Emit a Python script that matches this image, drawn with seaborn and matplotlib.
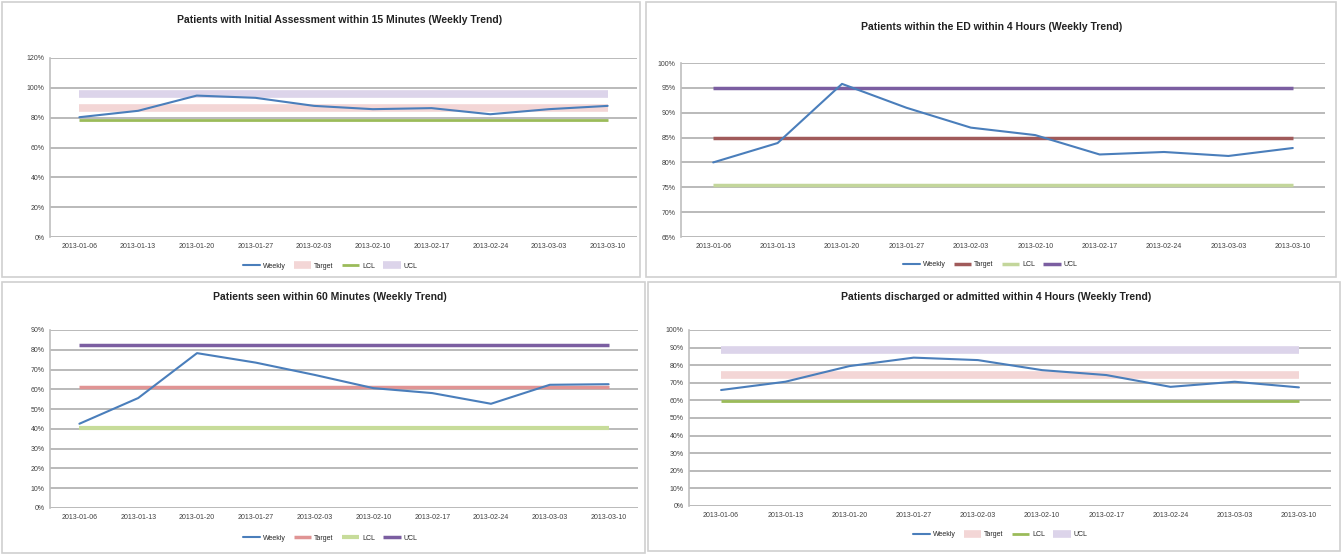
import matplotlib
matplotlib.use("Agg")
import matplotlib.pyplot as plt
import seaborn as sns
import pandas as pd
from matplotlib.patches import Rectangle
from matplotlib.ticker import PercentFormatter

# weekly dates (x categories)
weeks = ["2013-01-06", "2013-01-13", "2013-01-20", "2013-01-27", "2013-02-03",
         "2013-02-10", "2013-02-17", "2013-02-24", "2013-03-03", "2013-03-10"]

series_names = ["Weekly", "Target", "LCL", "UCL"]

# panel 1 - initial assessment
p1_title = "Patients with Initial Assessment within 15 Minutes (Weekly Trend)"
p1_weekly = [80.3, 84.6, 94.8, 93.3, 87.9, 85.7, 86.4, 82.3, 85.7, 87.9]
p1_upper, p1_target, p1_lower = 96.2, 86.8, 78.5

# panel 2 - ED 4 hours
p2_title = "Patients within the ED within 4 Hours (Weekly Trend)"
p2_weekly = [80.0, 83.9, 95.8, 91.0, 87.0, 85.5, 81.6, 82.1, 81.3, 82.9]
p2_upper, p2_target, p2_lower = 95.0, 85.0, 75.5

# panel 3 - seen within 60 minutes
p3_title = "Patients seen within 60 Minutes (Weekly Trend)"
p3_weekly = [42.6, 55.6, 78.3, 73.5, 67.3, 60.6, 58.1, 52.7, 62.3, 62.6]
p3_upper, p3_target, p3_lower = 82.5, 61.1, 40.4

# panel 4 - discharged / admitted within 4 hours
p4_title = "Patients discharged or admitted within 4 Hours (Weekly Trend)"
p4_weekly = [65.9, 70.6, 79.5, 84.3, 82.9, 77.2, 74.4, 67.7, 70.6, 67.4]
p4_upper, p4_target, p4_lower = 88.9, 74.4, 59.8

W, H = 1344, 555


def fig_rect(left, right, top, bottom):
    return [left / W, 1 - bottom / H, (right - left) / W, (bottom - top) / H]


def draw_panel(fig, plot_box, frame_box, title, title_xy, legend_xy,
               weekly, upper, target, lower, ylim, ystep, style):
    ax = fig.add_axes(fig_rect(*plot_box))
    fl, fr, ft, fb = frame_box
    fig.add_artist(Rectangle((fl / W, 1 - fb / H), (fr - fl) / W, (fb - ft) / H,
                             transform=fig.transFigure, fill=False,
                             edgecolor="#d0d0d0", linewidth=1.2))

    df = pd.DataFrame({"week": weeks, "Weekly": weekly,
                       "UCL": [upper] * len(weeks),
                       "Target": [target] * len(weeks),
                       "LCL": [lower] * len(weeks)})

    sns.lineplot(data=df, x="week", y="UCL", ax=ax, color=style["ucl"],
                 linewidth=style["band_w"], label="UCL", sort=False,
                 solid_capstyle="butt")
    sns.lineplot(data=df, x="week", y="Target", ax=ax, color=style["target"],
                 linewidth=style["band_w"], label="Target", sort=False,
                 solid_capstyle="butt")
    sns.lineplot(data=df, x="week", y="LCL", ax=ax, color=style["lcl"],
                 linewidth=style["lcl_w"], label="LCL", sort=False,
                 solid_capstyle="butt")
    sns.lineplot(data=df, x="week", y="Weekly", ax=ax, color="#4a7ebb",
                 linewidth=1.5, label="Weekly", sort=False)

    ax.set_xlim(-0.5, len(weeks) - 0.5)
    ax.set_ylim(*ylim)
    ax.set_yticks([ylim[0] + i * ystep for i in range(int(round((ylim[1] - ylim[0]) / ystep)) + 1)])
    ax.yaxis.set_major_formatter(PercentFormatter(decimals=0))
    ax.grid(axis="y", color="#b4b4b4", linewidth=1.3)
    ax.grid(axis="x", visible=False)
    ax.set_axisbelow(True)
    for s in ["top", "right", "bottom"]:
        ax.spines[s].set_visible(False)
    ax.spines["left"].set_color("#bfbfbf")
    ax.spines["left"].set_linewidth(1.2)
    ax.tick_params(axis="both", labelsize=5, length=0, colors="#404040", pad=4)
    ax.set_xlabel("")
    ax.set_ylabel("")

    fig.text(title_xy[0] / W, 1 - title_xy[1] / H, title, ha="center", va="center",
             fontsize=7.5, fontweight="bold", color="#222222")

    handles, labels = ax.get_legend_handles_labels()
    order = [labels.index(n) for n in series_names]
    ax.legend([handles[i] for i in order], [labels[i] for i in order],
              loc="center", bbox_to_anchor=(legend_xy[0] / W, 1 - legend_xy[1] / H),
              bbox_transform=fig.transFigure, ncol=4, frameon=False,
              fontsize=5, handlelength=2.5, columnspacing=1.2, handletextpad=0.4)
    return ax


def main():
    sns.set_theme(style="white")
    plt.rcParams["font.family"] = ["Liberation Sans", "DejaVu Sans"]
    fig = plt.figure(figsize=(W / 100, H / 100), dpi=100)

    band_style = {"ucl": "#dcd4ea", "target": "#f3d6d6", "lcl": "#9bbb59",
                  "band_w": 5.5, "lcl_w": 2.0}
    line_style_2 = {"ucl": "#7b5ea1", "target": "#a05a5a", "lcl": "#c3d69b",
                    "band_w": 2.5, "lcl_w": 2.5}
    line_style_3 = {"ucl": "#7b5ea1", "target": "#e09494", "lcl": "#c7dc9a",
                    "band_w": 2.5, "lcl_w": 3.0}

    draw_panel(fig, (50, 637, 58, 237), (2, 640, 2, 277), p1_title, (340, 20), (330, 266),
               p1_weekly, p1_upper, p1_target, p1_lower, (0, 120), 20, band_style)
    draw_panel(fig, (681, 1325, 63, 237), (646, 1336, 2, 277), p2_title, (992, 27), (990, 265),
               p2_weekly, p2_upper, p2_target, p2_lower, (65, 100), 5, line_style_2)
    draw_panel(fig, (50, 638, 330, 508), (2, 645, 282, 553), p3_title, (330, 297), (330, 538),
               p3_weekly, p3_upper, p3_target, p3_lower, (0, 90), 10, line_style_3)
    draw_panel(fig, (689, 1331, 330, 506), (648, 1340, 282, 551), p4_title, (996, 297), (1000, 535),
               p4_weekly, p4_upper, p4_target, p4_lower, (0, 100), 10, band_style)

    fig.savefig("out.png", dpi=100)
    plt.close(fig)


if __name__ == "__main__":
    main()
